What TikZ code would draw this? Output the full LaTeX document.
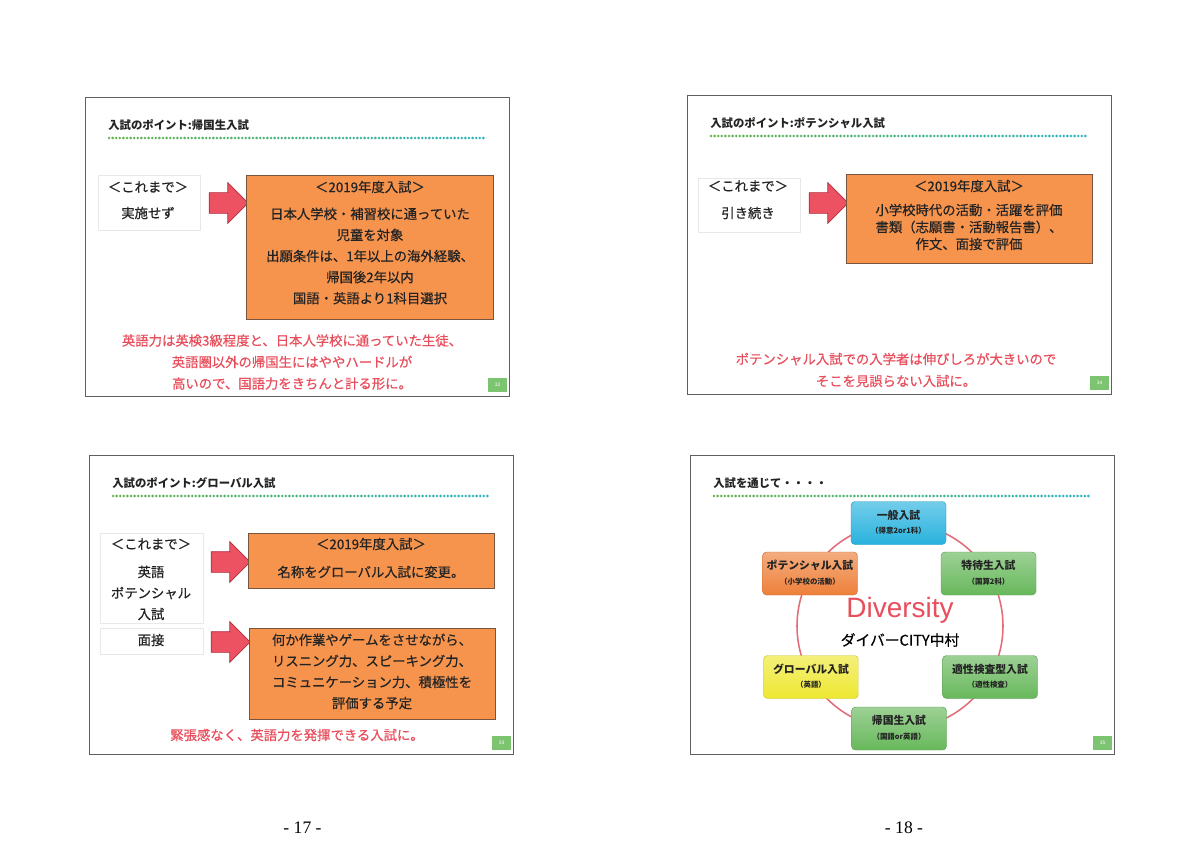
\documentclass[tikz,border=0pt]{standalone}
\usepackage{fontspec}
\setmainfont{Liberation Serif}
\newfontfamily\jp{Noto Sans CJK JP}
\newfontfamily\jpm[FakeBold=0.5]{Noto Sans CJK JP}
\newfontfamily\arial{Liberation Sans}
\usetikzlibrary{shapes.arrows}

\definecolor{framegray}{RGB}{95,95,95}
\definecolor{faintgray}{RGB}{232,232,232}
\definecolor{boxorange}{RGB}{246,148,78}
\definecolor{boxedge}{RGB}{120,85,60}
\definecolor{arrowred}{RGB}{236,82,98}
\definecolor{arrowedge}{RGB}{170,45,60}
\definecolor{notered}{RGB}{232,78,92}
\definecolor{textdark}{RGB}{35,35,35}
\definecolor{dotgreen}{RGB}{100,180,75}
\definecolor{dotteal}{RGB}{45,180,190}
\definecolor{numgreen}{RGB}{125,196,112}
\definecolor{ringred}{RGB}{228,108,120}
\definecolor{pillcyan}{RGB}{40,178,222}
\definecolor{pillgreen}{RGB}{104,184,92}
\definecolor{pillorange}{RGB}{238,128,58}
\definecolor{pillyellow}{RGB}{238,232,50}

\begin{document}
\begin{tikzpicture}[x=0.25mm,y=-0.25mm,
    slideframe/.style={draw=framegray, line width=0.9pt, inner sep=0,
        minimum width=106mm, minimum height=74.75mm, anchor=north west},
    ttl/.style={font=\jp\bfseries\fontsize{8.1}{10}\selectfont, text=textdark,
        anchor=west, inner sep=0},
    numbox/.style={fill=numgreen, minimum width=4.75mm, minimum height=3.5mm,
        inner sep=0, text=white, font=\arial\fontsize{3.5}{4}\selectfont},
    oldbox/.style={draw=faintgray, line width=0.5pt, inner sep=0},
    newbox/.style={draw=boxedge, fill=boxorange, line width=0.7pt, inner sep=0,
        minimum width=61.5mm},
    bigarrow/.style={single arrow, draw=arrowedge, fill=arrowred, line width=0.5pt,
        minimum height=9.75mm, minimum width=10mm, inner xsep=0, inner ysep=2.5mm},
    txt/.style={font=\jpm\fontsize{9.5}{15}\selectfont, text=textdark,
        align=center, inner sep=0},
    note/.style={font=\jpm\fontsize{9.5}{15.3}\selectfont, text=notered,
        align=center, inner sep=0},
    pill/.style={rounded corners=1mm, top color=#1!65!white, bottom color=#1,
        draw=#1!85!black, line width=0.3pt, minimum width=23.75mm,
        minimum height=10.75mm, inner sep=0},
    pillmain/.style={font=\jp\bfseries\fontsize{7.7}{9}\selectfont, text=textdark, inner sep=0},
    pillsub/.style={font=\jp\bfseries\fontsize{5.3}{6}\selectfont, text=textdark, inner sep=0},
    pagenum/.style={font=\fontsize{12.5}{14}\selectfont, inner sep=0}]

    \fill[white] (0,0) rectangle (1200,849);
    \useasboundingbox (0,0) rectangle (1200,849);

    % Slides: frame, title, dotted rule, number
    \foreach \sx/\sy/\stitle/\snum in {85/97/入試のポイント:帰国生入試/32,
        687/95/入試のポイント:ポテンシャル入試/34,
        89/455/入試のポイント:グローバル入試/33,
        690/455/入試を通じて・・・・/35} {
        \node[slideframe] (f\snum) at (\sx,\sy) {};
        \node[ttl] (t\snum) at ({\sx+23},{\sy+28}) {\stitle};
        \foreach \i in {0,...,104} {
            \pgfmathsetmacro\p{100-\i*100/104}
            \fill[dotgreen!\p!dotteal] ({\sx+24+\i*3.6},{\sy+41}) circle (0.36mm);
        }
        \node[numbox] (n\snum) at ({\sx+412.5},{\sy+288}) {\snum};
    }

    % Slide 32
    \node[oldbox, minimum width=25.5mm, minimum height=13.75mm] (old1) at (149,202.5) {};
    \node[txt] (was1) at (148,187) {＜これまで＞};
    \node[txt] (now1) at (148,213) {実施せず};
    \node[bigarrow] (a1) at (223.5,203) {};
    \node[newbox, minimum width=61.75mm, minimum height=36mm] (ob1) at (369.5,247) {};
    \node[txt] (h1) at (370,187) {＜2019年度入試＞};
    \node[txt] (b1) at (370,256) {日本人学校・補習校に通っていた\\児童を対象\\
        出願条件は、1年以上の海外経験、\\帰国後2年以内\\国語・英語より1科目選択};
    \node[note] (c1) at (292,362) {英語力は英検3級程度と、日本人学校に通っていた生徒、\\
        英語圏以外の帰国生にはややハードルが\\高いので、国語力をきちんと計る形に。};

    % Slide 34
    \node[oldbox, minimum width=25.5mm, minimum height=13.5mm] (old2) at (749,205) {};
    \node[txt] (was2) at (748,186) {＜これまで＞};
    \node[txt] (now2) at (748,213) {引き続き};
    \node[bigarrow] (a2) at (823.5,203) {};
    \node[newbox, minimum height=22.25mm] (ob2) at (969,218.5) {};
    \node[txt] (h2) at (969,186) {＜2019年度入試＞};
    \node[txt, font=\jpm\fontsize{9.5}{12.1}\selectfont] (b2) at (969,227)
        {小学校時代の活動・活躍を評価\\書類（志願書・活動報告書）、\\作文、面接で評価};
    \node[note, font=\jpm\fontsize{9.5}{15.6}\selectfont] (c2) at (896,370)
        {ポテンシャル入試での入学者は伸びしろが大きいので\\そこを見誤らない入試に。};

    % Slide 33
    \node[oldbox, minimum width=25.75mm, minimum height=22.5mm] (old3) at (151.5,578) {};
    \node[oldbox, minimum width=25.75mm, minimum height=6.5mm] (old4) at (151.5,641) {};
    \node[txt] (was3) at (151,544) {＜これまで＞};
    \node[txt] (now3) at (151,593) {英語\\ポテンシャル\\入試};
    \node[txt] (now4) at (151,640) {面接};
    \node[bigarrow] (a3) at (225.5,562) {};
    \node[bigarrow] (a4) at (225.5,642) {};
    \node[newbox, minimum height=13.75mm] (ob3) at (371,560.5) {};
    \node[newbox, minimum height=22.75mm] (ob4) at (372,673.5) {};
    \node[txt] (h3) at (371,544) {＜2019年度入試＞};
    \node[txt] (b3) at (371,572) {名称をグローバル入試に変更。};
    \node[txt] (b4) at (372,671.5) {何か作業やゲームをさせながら、\\リスニング力、スピーキング力、\\
        コミュニケーション力、積極性を\\評価する予定};
    \node[note] (c3) at (297,735) {緊張感なく、英語力を発揮できる入試に。};

    % Slide 35
    \node[draw=ringred, line width=1.1pt, circle, minimum size=51.5mm, inner sep=0] (hub) at (900,626) {};
    \foreach \nm/\cx/\cy/\col/\main/\sub in {
        gen/898.5/523/pillcyan/一般入試/（得意2or1科）,
        tok/988.5/573.5/pillgreen/特待生入試/（国算2科）,
        pot/810/573.5/pillorange/ポテンシャル入試/（小学校の活動）,
        glo/811/677/pillyellow/グローバル入試/（英語）,
        tek/990/677/pillgreen/適性検査型入試/（適性検査）,
        kik/899/728.5/pillgreen/帰国生入試/（国語or英語）} {
        \node[pill=\col] (\nm) at (\cx,\cy) {};
        \node[pillmain] (\nm m) at (\cx,{\cy-8}) {\main};
        \node[pillsub] (\nm s) at (\cx,{\cy+8}) {\sub};
    }
    \node[font=\arial\fontsize{19.9}{22}\selectfont, text=notered, inner sep=0] (div) at (900,610) {Diversity};
    \node[font=\jpm\fontsize{10.5}{12}\selectfont, text=black, inner sep=0] (city) at (900,640) {ダイバーCITY中村};

    % Page numbers
    \node[pagenum] (p17) at (302.5,828) {- 17 -};
    \node[pagenum] (p18) at (904,828) {- 18 -};
\end{tikzpicture}
\end{document}
